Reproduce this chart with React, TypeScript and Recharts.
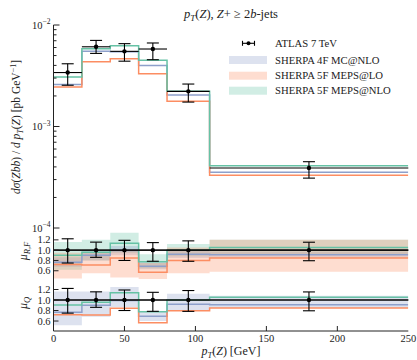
import React from 'react';
import { ComposedChart, Line, Area, Scatter, XAxis, YAxis, ErrorBar, ReferenceLine } from 'recharts';

// ---------------- data ----------------
const binEdges = [0, 20, 40, 60, 80, 110, 250];
const binCenters = [10, 30, 50, 70, 95, 180];
const binHalfWidths = [10, 10, 10, 10, 15, 70];

const atlas = [3.4e-3, 6.1e-3, 5.5e-3, 5.8e-3, 2.22e-3, 3.9e-4];
const atlasLow = [2.55e-3, 5.25e-3, 4.4e-3, 4.55e-3, 1.74e-3, 3.1e-4];
const atlasHigh = [4.15e-3, 7.05e-3, 6.55e-3, 6.65e-3, 2.62e-3, 4.5e-4];

const sherpa4F = [2.6e-3, 5.5e-3, 5.45e-3, 4.0e-3, 2.04e-3, 3.55e-4];
const sherpa5FLO = [2.45e-3, 4.35e-3, 4.65e-3, 3.3e-3, 1.77e-3, 3.3e-4];
const sherpa5FNLO = [3.07e-3, 5.85e-3, 6.25e-3, 4.5e-3, 2.22e-3, 4.1e-4];

// scale variation bands, as ratio to data
const rf4FLow = [0.68, 0.8, 0.9, 0.63, 0.85, 0.85];
const rf4FHigh = [0.86, 0.98, 1.08, 0.76, 1.0, 0.97];
const rf5FLOLow = [0.45, 0.55, 0.47, 0.44, 0.55, 0.58];
const rf5FLOHigh = [0.95, 0.95, 1.0, 0.75, 1.05, 1.2];
const rf5FNLOLow = [0.62, 0.8, 0.95, 0.65, 0.88, 0.92];
const rf5FNLOHigh = [1.16, 1.2, 1.34, 0.92, 1.12, 1.2];
const q4FLow = [0.52, 0.68, 0.86, 0.6, 0.8, 0.85];
const q4FHigh = [1.16, 1.16, 1.25, 0.78, 1.12, 1.08];

const mainYTicks = [
  1e-4, 2e-4, 3e-4, 4e-4, 5e-4, 6e-4, 7e-4, 8e-4, 9e-4,
  1e-3, 2e-3, 3e-3, 4e-3, 5e-3, 6e-3, 7e-3, 8e-3, 9e-3, 1e-2,
];
const ratioYTicks = [0.6, 0.8, 1.0, 1.2];
const xTicks = [0, 50, 100, 150, 200, 250];
const legendLabels = ['ATLAS 7 TeV', 'SHERPA 4F MC@NLO', 'SHERPA 5F MEPS@LO', 'SHERPA 5F MEPS@NLO'];

// ---------------- derived tables ----------------
const lastBin = binCenters.length - 1;
const k = (i: number) => Math.min(i, lastBin);
const mainRows = binEdges.map((x, i) => ({
  x,
  s4F: sherpa4F[k(i)],
  sLO: sherpa5FLO[k(i)],
  sNLO: sherpa5FNLO[k(i)],
}));
const ratioRows = binEdges.map((x, i) => {
  const j = k(i);
  return {
    x,
    r4F: sherpa4F[j] / atlas[j],
    rLO: sherpa5FLO[j] / atlas[j],
    rNLO: sherpa5FNLO[j] / atlas[j],
    rf4F: [rf4FLow[j], rf4FHigh[j]],
    rfLO: [rf5FLOLow[j], rf5FLOHigh[j]],
    rfNLO: [rf5FNLOLow[j], rf5FNLOHigh[j]],
    q4F: [q4FLow[j], q4FHigh[j]],
  };
});
const mainPoints = binCenters.map((x, i) => ({
  x,
  y: atlas[i],
  ey: [atlas[i] - atlasLow[i], atlasHigh[i] - atlas[i]],
  ex: binHalfWidths[i],
}));
const ratioPoints = binCenters.map((x, i) => ({
  x,
  y: 1,
  ey: [1 - atlasLow[i] / atlas[i], atlasHigh[i] / atlas[i] - 1],
  ex: binHalfWidths[i],
}));

// ---------------- style ----------------
const C_BLUE = '#8da0cb';
const C_ORANGE = '#fc8d62';
const C_GREEN = '#66c2a5';
const AXIS = '#222';
const TXT = '#222';
const FONT = '"Liberation Serif", "DejaVu Serif", serif';
const FS = 10.5;
const BAND_OP = 0.3;

const isDecade = (v: number) => Math.abs(Math.log10(v) - Math.round(Math.log10(v))) < 1e-6;

const MainLeftTick = (p: any) => {
  const v = p.payload.value;
  const ax = p.x + 3;
  const major = isDecade(v);
  return (
    <g>
      <line x1={ax} x2={ax + (major ? 6 : 3)} y1={p.y} y2={p.y} stroke={AXIS} strokeWidth={1} />
      {major && (
        <text x={p.x} y={p.y + 3.5} textAnchor="end" fontSize={FS} fill={TXT} fontFamily={FONT}>
          10<tspan dy={-4.5} fontSize={7.5}>{'\u2212' + String(-Math.round(Math.log10(v)))}</tspan>
        </text>
      )}
    </g>
  );
};
const MainRightTick = (p: any) => {
  const v = p.payload.value;
  const major = isDecade(v);
  return <line x1={p.x} x2={p.x - (major ? 6 : 3)} y1={p.y} y2={p.y} stroke={AXIS} strokeWidth={1} />;
};
const RatioLeftTick = (p: any) => {
  const v = p.payload.value;
  const ax = p.x + 3;
  return (
    <g>
      <line x1={ax} x2={ax + 5} y1={p.y} y2={p.y} stroke={AXIS} strokeWidth={1} />
      <text x={p.x} y={p.y + 3.5} textAnchor="end" fontSize={FS} fill={TXT} fontFamily={FONT}>
        {v.toFixed(1)}
      </text>
    </g>
  );
};
const RatioRightTick = (p: any) => (
  <line x1={p.x} x2={p.x - 5} y1={p.y} y2={p.y} stroke={AXIS} strokeWidth={1} />
);
const inner = (v: number) => v > 0 && v < 250;
const TopTick = (p: any) =>
  inner(p.payload.value) ? <line x1={p.x} x2={p.x} y1={p.y} y2={p.y + 5} stroke={AXIS} strokeWidth={1} /> : <g />;
const BottomTick = (p: any) =>
  inner(p.payload.value) ? <line x1={p.x} x2={p.x} y1={p.y} y2={p.y - 5} stroke={AXIS} strokeWidth={1} /> : <g />;
const BottomLabelTick = (p: any) => (
  <g>
    {inner(p.payload.value) && <line x1={p.x} x2={p.x} y1={p.y} y2={p.y - 5} stroke={AXIS} strokeWidth={1} />}
    <text x={p.x} y={p.y + 11} textAnchor="middle" fontSize={FS} fill={TXT} fontFamily={FONT}>
      {p.payload.value}
    </text>
  </g>
);

const Dot = (p: any) => <circle cx={p.cx} cy={p.cy} r={2.2} fill="#000" />;

const MARGIN_R = 8.7;
const LEFT_W = 53.5;

function frameAxes(
  yDomain: [number, number],
  yTicks: number[],
  leftTick: any,
  rightTick: any,
  log: boolean,
  bottomTick: any,
  bottomHeight: number
) {
  return [
    <XAxis
      key="xb"
      dataKey="x"
      type="number"
      domain={[0, 250]}
      ticks={xTicks}
      interval={0}
      height={bottomHeight}
      tickSize={0}
      tickMargin={0}
      tickLine={false}
      axisLine={{ stroke: AXIS, strokeWidth: 1 }}
      tick={(p: any) => bottomTick(p)}
      allowDataOverflow
    />,
    <XAxis
      key="xt"
      xAxisId="top"
      orientation="top"
      type="number"
      domain={[0, 250]}
      ticks={xTicks}
      interval={0}
      height={0}
      tickSize={0}
      tickMargin={0}
      tickLine={false}
      axisLine={{ stroke: AXIS, strokeWidth: 1 }}
      tick={(p: any) => TopTick(p)}
      allowDataOverflow
    />,
    <YAxis
      key="yl"
      type="number"
      scale={log ? 'log' : 'linear'}
      domain={yDomain}
      ticks={yTicks}
      interval={0}
      width={LEFT_W}
      tickSize={0}
      tickMargin={3}
      tickLine={false}
      axisLine={{ stroke: AXIS, strokeWidth: 1 }}
      tick={(p: any) => leftTick(p)}
      allowDataOverflow
    />,
    <YAxis
      key="yr"
      yAxisId="r"
      orientation="right"
      type="number"
      scale={log ? 'log' : 'linear'}
      domain={yDomain}
      ticks={yTicks}
      interval={0}
      width={0}
      tickSize={0}
      tickMargin={0}
      tickLine={false}
      axisLine={{ stroke: AXIS, strokeWidth: 1 }}
      tick={(p: any) => rightTick(p)}
      allowDataOverflow
    />,
  ];
}

export default function App() {
  const it = 'italic';
  return (
    <div
      style={{
        position: 'absolute',
        left: 0,
        top: 0,
        width: 417,
        height: 360,
        background: '#fff',
        fontFamily: FONT,
        overflow: 'hidden',
      }}
    >
      {/* main panel */}
      <div style={{ position: 'absolute', left: 0, top: 0 }}>
        <ComposedChart width={417} height={240} data={mainRows} margin={{ top: 25, right: MARGIN_R, bottom: 12, left: 0 }}>
          {frameAxes([1e-4, 1e-2], mainYTicks, MainLeftTick, MainRightTick, true, BottomTick, 0)}
          <Line dataKey="s4F" type="stepAfter" stroke={C_BLUE} strokeWidth={1.5} dot={false} isAnimationActive={false} />
          <Line dataKey="sLO" type="stepAfter" stroke={C_ORANGE} strokeWidth={1.5} dot={false} isAnimationActive={false} />
          <Line dataKey="sNLO" type="stepAfter" stroke={C_GREEN} strokeWidth={1.5} dot={false} isAnimationActive={false} />
          <Scatter data={mainPoints} dataKey="y" shape={Dot} isAnimationActive={false}>
            <ErrorBar dataKey="ex" direction="x" width={0} stroke="#000" strokeWidth={1.1} isAnimationActive={false} />
            <ErrorBar dataKey="ey" direction="y" width={6} stroke="#000" strokeWidth={1.1} isAnimationActive={false} />
          </Scatter>
        </ComposedChart>
      </div>

      {/* mu_R,F panel */}
      <div style={{ position: 'absolute', left: 0, top: 227 }}>
        <ComposedChart width={417} height={53} data={ratioRows} margin={{ top: 1, right: MARGIN_R, bottom: 1, left: 0 }}>
          {frameAxes([0.44, 1.43], ratioYTicks, RatioLeftTick, RatioRightTick, false, BottomTick, 0)}
          <Area dataKey="rfNLO" type="stepAfter" stroke="none" fill={C_GREEN} fillOpacity={BAND_OP} isAnimationActive={false} />
          <Area dataKey="rf4F" type="stepAfter" stroke="none" fill={C_BLUE} fillOpacity={BAND_OP} isAnimationActive={false} />
          <Area dataKey="rfLO" type="stepAfter" stroke="none" fill={C_ORANGE} fillOpacity={BAND_OP} isAnimationActive={false} />
          <Line dataKey="r4F" type="stepAfter" stroke={C_BLUE} strokeWidth={1.5} dot={false} isAnimationActive={false} />
          <Line dataKey="rLO" type="stepAfter" stroke={C_ORANGE} strokeWidth={1.5} dot={false} isAnimationActive={false} />
          <Line dataKey="rNLO" type="stepAfter" stroke={C_GREEN} strokeWidth={1.5} dot={false} isAnimationActive={false} />
          <ReferenceLine y={1} stroke="#111" strokeWidth={1.2} />
          <Scatter data={ratioPoints} dataKey="y" shape={Dot} isAnimationActive={false}>
            <ErrorBar dataKey="ex" direction="x" width={0} stroke="#000" strokeWidth={1.1} isAnimationActive={false} />
            <ErrorBar dataKey="ey" direction="y" width={6} stroke="#000" strokeWidth={1.1} isAnimationActive={false} />
          </Scatter>
        </ComposedChart>
      </div>

      {/* mu_Q panel */}
      <div style={{ position: 'absolute', left: 0, top: 278 }}>
        <ComposedChart width={417} height={82} data={ratioRows} margin={{ top: 1, right: MARGIN_R, bottom: 0, left: 0 }}>
          {frameAxes([0.41, 1.4], ratioYTicks, RatioLeftTick, RatioRightTick, false, BottomLabelTick, 29)}
          <Area dataKey="q4F" type="stepAfter" stroke="none" fill={C_BLUE} fillOpacity={BAND_OP} isAnimationActive={false} />
          <Line dataKey="r4F" type="stepAfter" stroke={C_BLUE} strokeWidth={1.5} dot={false} isAnimationActive={false} />
          <Line dataKey="rLO" type="stepAfter" stroke={C_ORANGE} strokeWidth={1.5} dot={false} isAnimationActive={false} />
          <Line dataKey="rNLO" type="stepAfter" stroke={C_GREEN} strokeWidth={1.5} dot={false} isAnimationActive={false} />
          <ReferenceLine y={1} stroke="#111" strokeWidth={1.2} />
          <Scatter data={ratioPoints} dataKey="y" shape={Dot} isAnimationActive={false}>
            <ErrorBar dataKey="ex" direction="x" width={0} stroke="#000" strokeWidth={1.1} isAnimationActive={false} />
            <ErrorBar dataKey="ey" direction="y" width={6} stroke="#000" strokeWidth={1.1} isAnimationActive={false} />
          </Scatter>
        </ComposedChart>
      </div>

      {/* titles, axis labels, legend */}
      <svg
        width={417}
        height={360}
        style={{ position: 'absolute', left: 0, top: 0, pointerEvents: 'none' }}
        fontFamily={FONT}
        fill={TXT}
      >
        <text x={231} y={18} textAnchor="middle" fontSize={12.5}>
          <tspan fontStyle={it}>p</tspan>
          <tspan fontStyle={it} fontSize={9} dy={2.5}>T</tspan>
          <tspan dy={-2.5}>(</tspan>
          <tspan fontStyle={it}>Z</tspan>
          <tspan>), </tspan>
          <tspan fontStyle={it}>Z</tspan>
          <tspan>+ ≥ 2</tspan>
          <tspan fontStyle={it}>b</tspan>
          <tspan>-jets</tspan>
        </text>

        <text x={231} y={355} textAnchor="middle" fontSize={12}>
          <tspan fontStyle={it}>p</tspan>
          <tspan fontStyle={it} fontSize={8.5} dy={2.5}>T</tspan>
          <tspan dy={-2.5}>(</tspan>
          <tspan fontStyle={it}>Z</tspan>
          <tspan>) [GeV]</tspan>
        </text>

        <text transform="translate(20,127) rotate(-90)" textAnchor="middle" fontSize={11.5}>
          <tspan fontStyle={it}>dσ</tspan>
          <tspan>(</tspan>
          <tspan fontStyle={it}>Zbb</tspan>
          <tspan>) / </tspan>
          <tspan fontStyle={it}>d p</tspan>
          <tspan fontStyle={it} fontSize={8} dy={2.5}>T</tspan>
          <tspan dy={-2.5}>(</tspan>
          <tspan fontStyle={it}>Z</tspan>
          <tspan>) [pb GeV</tspan>
          <tspan fontSize={8} dy={-4.5}>−1</tspan>
          <tspan dy={4.5}>]</tspan>
        </text>

        <text transform="translate(27,251) rotate(-90)" textAnchor="middle" fontSize={12}>
          <tspan fontStyle={it}>μ</tspan>
          <tspan fontStyle={it} fontSize={8.5} dy={2.5}>R,F</tspan>
        </text>
        <text transform="translate(27,303) rotate(-90)" textAnchor="middle" fontSize={12}>
          <tspan fontStyle={it}>μ</tspan>
          <tspan fontStyle={it} fontSize={8.5} dy={2.5}>Q</tspan>
        </text>

        {/* legend */}
        <g>
          <line x1={242.5} x2={254.5} y1={43.3} y2={43.3} stroke="#000" strokeWidth={1.1} />
          <line x1={242.5} x2={242.5} y1={40.8} y2={45.8} stroke="#000" strokeWidth={1.1} />
          <line x1={254.5} x2={254.5} y1={40.8} y2={45.8} stroke="#000" strokeWidth={1.1} />
          <circle cx={248.5} cy={43.3} r={2} fill="#000" />
          <text x={275} y={47} fontSize={10.7}>{legendLabels[0]}</text>

          <rect x={229} y={56} width={38} height={8} fill={C_BLUE} fillOpacity={BAND_OP} />
          <text x={275} y={63.7} fontSize={10.7}>{legendLabels[1]}</text>

          <rect x={229} y={71.7} width={38} height={8} fill={C_ORANGE} fillOpacity={BAND_OP} />
          <text x={275} y={79.4} fontSize={10.7}>{legendLabels[2]}</text>

          <rect x={229} y={86.7} width={38} height={8} fill={C_GREEN} fillOpacity={BAND_OP} />
          <text x={275} y={94.4} fontSize={10.7}>{legendLabels[3]}</text>
        </g>
      </svg>
    </div>
  );
}
